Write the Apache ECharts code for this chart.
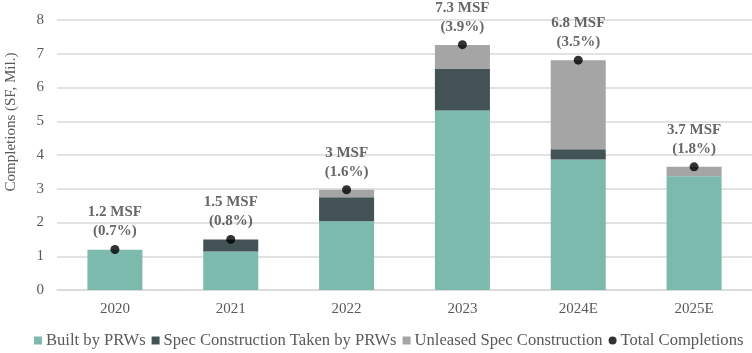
<!DOCTYPE html>
<html>
<head>
<meta charset="utf-8">
<script src="https://cdn.jsdelivr.net/npm/echarts@6/dist/echarts.min.js"></script>
<style>
  html, body { margin: 0; padding: 0; background: #ffffff; }
  #chart { width: 752px; height: 353px; }
</style>
</head>
<body>
<div id="chart"></div>
<script>
const years = ["2020", "2021", "2022", "2023", "2024E", "2025E"];
const builtByPRWs = [1.19, 1.14, 2.04, 5.32, 3.87, 3.37];
const specTaken = [0, 0.36, 0.71, 1.24, 0.30, 0];
const unleasedSpec = [0, 0, 0.22, 0.70, 2.64, 0.28];
const totalCompletions = [1.2, 1.5, 2.97, 7.27, 6.81, 3.65];
const totalLabels = ["1.2 MSF", "1.5 MSF", "3 MSF", "7.3 MSF", "6.8 MSF", "3.7 MSF"];
const shareLabels = ["(0.7%)", "(0.8%)", "(1.6%)", "(3.9%)", "(3.5%)", "(1.8%)"];

const FONT = "Liberation Serif";
const chart = echarts.init(document.getElementById("chart"));

chart.setOption({
  backgroundColor: "#ffffff",
  animation: false,
  textStyle: { fontFamily: FONT },
  grid: { left: 57, right: 0, top: 20, bottom: 63, outerBoundsMode: "none", containLabel: false },
  graphic: [{
    type: "text",
    x: 11,
    y: 122,
    rotation: Math.PI / 2,
    style: {
      text: "Completions (SF, Mil.)",
      font: "15px " + FONT,
      fill: "#595959",
      align: "center",
      verticalAlign: "middle"
    }
  }],
  legend: {
    top: 332,
    left: 34,
    width: 718,
    padding: 0,
    itemWidth: 8,
    itemHeight: 8,
    itemGap: 6,
    textStyle: { fontFamily: FONT, fontSize: 16.6, color: "#595959", padding: [0, 0, 0, -1] },
    data: [
      { name: "Built by PRWs", icon: "rect" },
      { name: "Spec Construction Taken by PRWs", icon: "rect" },
      { name: "Unleased Spec Construction", icon: "rect" },
      { name: "Total Completions", icon: "circle" }
    ]
  },
  xAxis: {
    type: "category",
    data: years,
    axisLine: { show: true, lineStyle: { color: "#d9d9d9", width: 1.5 } },
    axisTick: { show: false },
    axisLabel: { fontFamily: FONT, fontSize: 15, color: "#595959", margin: 12 }
  },
  yAxis: {
    type: "value",
    min: 0,
    max: 8,
    interval: 1,
    axisLine: { show: false },
    axisTick: { show: false },
    axisLabel: { fontFamily: FONT, fontSize: 15, color: "#595959", margin: 13 },
    splitLine: { lineStyle: { color: "#d9d9d9", width: 1.5 } }
  },
  series: [
    {
      name: "Built by PRWs",
      type: "bar",
      stack: "total",
      barWidth: "47.5%",
      itemStyle: { color: "#7dbaae" },
      data: builtByPRWs
    },
    {
      name: "Spec Construction Taken by PRWs",
      type: "bar",
      stack: "total",
      itemStyle: { color: "#435355" },
      data: specTaken
    },
    {
      name: "Unleased Spec Construction",
      type: "bar",
      stack: "total",
      itemStyle: { color: "#a5a5a5" },
      data: unleasedSpec
    },
    {
      name: "Total Completions",
      type: "scatter",
      symbol: "circle",
      symbolSize: 9,
      itemStyle: { color: "#000000" },
      z: 5,
      label: {
        show: true,
        position: "top",
        distance: 4,
        fontFamily: FONT,
        fontSize: 15,
        fontWeight: "bold",
        lineHeight: 19,
        color: "#404040",
        align: "center",
        formatter: (p) => totalLabels[p.dataIndex] + "\n" + shareLabels[p.dataIndex]
      },
      data: totalCompletions
    }
  ]
});
</script>
</body>
</html>
